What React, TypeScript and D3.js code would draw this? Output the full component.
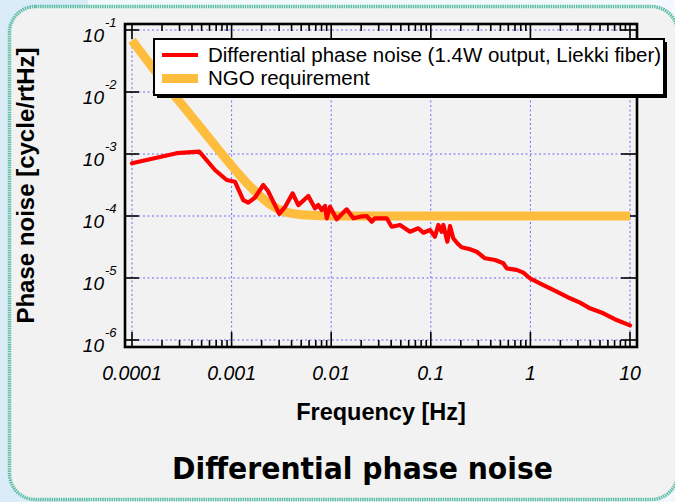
import React from "react";
import * as d3 from "d3";

const W = 675;
const H = 502;

// Differential phase noise (1.4W output, Liekki fiber)
const redFreq = [
  1.0e-4, 2.81e-4, 4.74e-4, 6.81e-4, 8.93e-4, 1.08e-3, 1.31e-3, 1.47e-3, 1.72e-3, 2.08e-3,
  2.32e-3, 3.01e-3, 3.44e-3, 4.1e-3, 4.68e-3, 5.89e-3, 6.87e-3, 7.41e-3, 8.04e-3, 8.67e-3,
  9.02e-3, 9.73e-3, 1.135e-2, 1.43e-2, 1.67e-2, 1.95e-2, 2.27e-2, 2.55e-2, 2.75e-2, 3.61e-2,
  4.05e-2, 4.91e-2, 6.18e-2, 7.48e-2, 8.41e-2, 9.82e-2, 0.11, 0.119, 0.1285, 0.1337,
  0.1466, 0.156, 0.168, 0.1845, 0.204, 0.248, 0.289, 0.35, 0.442, 0.535,
  0.578, 0.728, 0.849, 0.99, 1.35, 1.84, 2.5, 3.15, 3.96, 5.4,
  7.35, 10,
];
const redNoise = [
  7.08e-4, 1.03e-3, 1.09e-3, 5.52e-4, 3.81e-4, 3.57e-4, 1.81e-4, 1.64e-4, 1.99e-4, 3.16e-4,
  2.53e-4, 1.08e-4, 1.4e-4, 2.32e-4, 1.5e-4, 2.1e-4, 1.33e-4, 1.5e-4, 1.25e-4, 1.45e-4,
  9.18e-5, 1.41e-4, 8.85e-5, 1.28e-4, 9.18e-5, 9.75e-5, 1.0e-4, 8.09e-5, 9.18e-5, 9.18e-5,
  6.71e-5, 7.16e-5, 5.58e-5, 6.34e-5, 5.38e-5, 5.94e-5, 4.64e-5, 7.16e-5, 5.58e-5, 7.16e-5,
  3.85e-5, 6.9e-5, 4.37e-5, 3.63e-5, 3.13e-5, 2.9e-5, 2.65e-5, 2.08e-5, 1.95e-5, 1.73e-5,
  1.43e-5, 1.35e-5, 1.22e-5, 9.9e-6, 7.71e-6, 6.01e-6, 4.71e-6, 4.0e-6, 3.24e-6, 2.7e-6,
  2.1e-6, 1.72e-6,
];

// NGO requirement
const ngoFreq = [1e-4, 2e-4, 3e-4, 5e-4, 8e-4, 1.2e-3, 1.6e-3, 2e-3, 2.5e-3, 3e-3, 4e-3, 5e-3, 7e-3, 1e-2, 10];
const ngoReq = [0.068, 0.0158, 7.0e-3, 2.55e-3, 1.0e-3, 4.6e-4, 2.8e-4, 2.0e-4, 1.5e-4, 1.27e-4, 1.1e-4, 1.05e-4, 1.02e-4, 1.0e-4, 1.0e-4];

const xTickValues = [1e-4, 1e-3, 1e-2, 1e-1, 1, 10];
const xTickLabels = ["0.0001", "0.001", "0.01", "0.1", "1", "10"];
const yTickValues = [1e-1, 1e-2, 1e-3, 1e-4, 1e-5, 1e-6];
const yTickExps = ["-1", "-2", "-3", "-4", "-5", "-6"];
const legendLabels = ["Differential phase noise (1.4W output, Liekki fiber)", "NGO requirement"];

const xTitle = "Frequency [Hz]";
const yTitle = "Phase noise [cycle/rtHz]";
const chartTitle = "Differential phase noise";

const RED = "#ff0000";
const ORANGE = "#ffbd3d";
const GRID = "#6a6af8";

export default function App() {
  const x = d3.scaleLog().domain([1e-4, 10]).range([132, 630]);
  const y = d3.scaleLog().domain([1e-6, 1e-1]).range([340, 30]);

  const fx0 = x.range()[0] - 7;
  const fx1 = x.range()[1] + 7;
  const fy0 = y.range()[1] - 6;
  const fy1 = y.range()[0] + 7;

  const redData = redFreq.map((f, i) => ({ f, v: redNoise[i] }));
  const ngoData = ngoFreq.map((f, i) => ({ f, v: ngoReq[i] }));

  const redLine = d3
    .line<{ f: number; v: number }>()
    .x((d) => x(d.f))
    .y((d) => y(d.v));
  const ngoLine = d3
    .line<{ f: number; v: number }>()
    .x((d) => x(d.f))
    .y((d) => y(d.v))
    .curve(d3.curveMonotoneX);

  const minorX: number[] = [];
  for (let e = -4; e < 1; e++) {
    for (let k = 2; k <= 9; k++) minorX.push(k * Math.pow(10, e));
  }

  const font = "'Liberation Sans', Arial, sans-serif";

  return (
    <svg
      width={W}
      height={H}
      style={{ position: "absolute", left: 0, top: 0, display: "block" }}
      xmlns="http://www.w3.org/2000/svg"
    >
      {/* page background */}
      <rect x={0} y={0} width={W} height={H} fill="#f2f8fd" />
      <rect x={0} y={0} width={88} height={H} fill="#dbecf9" />
      {/* card */}
      <rect
        x={9.5}
        y={6.5}
        width={668}
        height={493}
        rx={26}
        ry={26}
        fill="#f2f2f2"
        stroke="#5dbea4"
        strokeWidth={3.5}
        strokeDasharray="1.5 0.8"
      />

      {/* grid */}
      <g stroke={GRID} strokeWidth={1} strokeDasharray="2 2.5">
        {xTickValues.map((v) => (
          <line key={"gx" + v} x1={x(v)} x2={x(v)} y1={fy0} y2={fy1} />
        ))}
        {yTickValues.map((v) => (
          <line key={"gy" + v} x1={fx0} x2={fx1} y1={y(v)} y2={y(v)} />
        ))}
      </g>

      {/* ticks */}
      <g stroke="#000" strokeWidth={1.6}>
        {xTickValues.map((v) => (
          <g key={"tx" + v}>
            <line x1={x(v)} x2={x(v)} y1={fy1} y2={fy1 - 15} />
            <line x1={x(v)} x2={x(v)} y1={fy0} y2={fy0 + 15} />
          </g>
        ))}
        {minorX.map((v) => (
          <g key={"mx" + v}>
            <line x1={x(v)} x2={x(v)} y1={fy1} y2={fy1 - 7} />
            <line x1={x(v)} x2={x(v)} y1={fy0} y2={fy0 + 7} />
          </g>
        ))}
        {yTickValues.map((v) => (
          <g key={"ty" + v}>
            <line x1={fx0} x2={fx0 + 14} y1={y(v)} y2={y(v)} />
            <line x1={fx1} x2={fx1 - 16} y1={y(v)} y2={y(v)} />
          </g>
        ))}
      </g>

      {/* data */}
      <path
        d={ngoLine(ngoData) || ""}
        fill="none"
        stroke={ORANGE}
        strokeWidth={9}
        strokeLinejoin="round"
      />
      <path
        d={redLine(redData) || ""}
        fill="none"
        stroke={RED}
        strokeWidth={4.2}
        strokeLinejoin="round"
        strokeLinecap="round"
      />

      {/* frame */}
      <rect
        x={fx0}
        y={fy0}
        width={fx1 - fx0}
        height={fy1 - fy0}
        fill="none"
        stroke="#000"
        strokeWidth={2.6}
      />

      {/* x tick labels */}
      <g fontFamily={font} fontStyle="italic" fontSize={19.5} fill="#000" textAnchor="middle">
        {xTickValues.map((v, i) => (
          <text key={"xl" + v} x={x(v)} y={380}>
            {xTickLabels[i]}
          </text>
        ))}
      </g>

      {/* y tick labels */}
      <g fontFamily={font} fontStyle="italic" fill="#000">
        {yTickValues.map((v, i) => (
          <g key={"yl" + v}>
            <text x={fx0 - 21} y={y(v) + 12} fontSize={19} textAnchor="end">
              10
            </text>
            <text x={fx0 - 20} y={y(v) - 3} fontSize={13} textAnchor="start">
              {yTickExps[i]}
            </text>
          </g>
        ))}
      </g>

      {/* axis titles */}
      <text
        x={(x.range()[0] + x.range()[1]) / 2}
        y={420}
        fontFamily={font}
        fontWeight="bold"
        fontSize={23.5}
        textAnchor="middle"
        fill="#000"
      >
        {xTitle}
      </text>
      <text
        transform={`translate(34, ${(fy0 + fy1) / 2}) rotate(-90)`}
        fontFamily={font}
        fontWeight="bold"
        fontSize={24}
        textAnchor="middle"
        fill="#000"
      >
        {yTitle}
      </text>

      {/* legend */}
      <g>
        <rect x={157} y={42} width={510} height={56} fill="#000" />
        <rect x={154} y={39} width={510} height={56} fill="#fff" stroke="#000" strokeWidth={2} />
        <line x1={162} x2={198} y1={55} y2={55} stroke={RED} strokeWidth={4} />
        <line x1={162} x2={198} y1={78.5} y2={78.5} stroke={ORANGE} strokeWidth={9} />
        <text x={208} y={62} fontFamily={font} fontSize={20.5} fill="#000">
          {legendLabels[0]}
        </text>
        <text x={208} y={85} fontFamily={font} fontSize={20.5} fill="#000">
          {legendLabels[1]}
        </text>
      </g>

      {/* chart title */}
      <text
        x={362.5}
        y={479}
        fontFamily="'DejaVu Sans Condensed', 'DejaVu Sans', Verdana, sans-serif"
        fontWeight="bold"
        fontStretch="condensed"
        fontSize={31}
        textAnchor="middle"
        textLength={381}
        lengthAdjust="spacingAndGlyphs"
        fill="#000"
      >
        {chartTitle}
      </text>
    </svg>
  );
}
